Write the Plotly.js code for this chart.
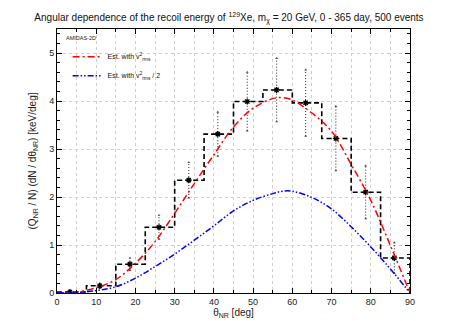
<!DOCTYPE html>
<html>
<head>
<meta charset="utf-8">
<script src="https://cdn.plot.ly/plotly-3.0.1.min.js"></script>
<style>html,body{margin:0;padding:0;background:#fff;}#chart{width:458px;height:321px;}</style>
</head>
<body>
<div id="chart"></div>
<script>
// Histogram bins (left edges, deg) and reconstructed values
const binLeft = [0, 7.5, 15, 22.5, 30, 37.5, 45, 52.5, 60, 67.5, 75, 82.5];
const binRightEnd = 90;
const binValues = [0.02, 0.15, 0.60, 1.37, 2.35, 3.31, 3.99, 4.23, 3.96, 3.22, 2.10, 0.73];

// Data points with error bars
const pointAngle = [3.3, 10.9, 18.6, 26.0, 33.6, 41.0, 48.5, 56.0, 63.4, 71.1, 78.7, 86.0];
const pointValue = [0.02, 0.15, 0.60, 1.37, 2.35, 3.31, 3.99, 4.23, 3.96, 3.22, 2.10, 0.73];
const pointError = [0.01, 0.05, 0.13, 0.25, 0.37, 0.46, 0.61, 0.66, 0.69, 0.67, 0.55, 0.32];

// Theoretical curves
const curveAngle = [0, 5, 10, 15, 20, 25, 30, 35, 40, 45, 50, 55, 57.5, 60, 65, 70, 75, 80, 85, 90];
const estVrms2   = [0, 0.02, 0.11, 0.28, 0.62, 1.07, 1.66, 2.28, 2.88, 3.46, 3.85, 4.05, 4.07, 4.02, 3.75, 3.37, 2.68, 1.93, 0.99, 0];
const estVrms2h  = [0, 0.01, 0.05, 0.13, 0.31, 0.55, 0.81, 1.10, 1.40, 1.71, 1.93, 2.07, 2.12, 2.12, 1.99, 1.75, 1.38, 0.96, 0.50, 0];

const histX = binLeft.concat([binRightEnd, binRightEnd]);
const histY = binValues.concat([binValues[binValues.length - 1], 0]);

const errX = [], errY = [], capX = [], capY = [];
pointAngle.forEach((a, i) => {
  errX.push(a, a, null);
  errY.push(pointValue[i] - pointError[i], pointValue[i] + pointError[i], null);
  capX.push(a, a);
  capY.push(pointValue[i] - pointError[i], pointValue[i] + pointError[i]);
});

const font = "'Liberation Sans', Arial, sans-serif";

const traces = [
  {x: histX, y: histY, type: 'scatter', mode: 'lines', line: {shape: 'hv', color: '#000', width: 1.6, dash: '5px,3px'}, showlegend: false, hoverinfo: 'skip'},
  {x: errX, y: errY, type: 'scatter', mode: 'lines', line: {color: '#222', width: 1, dash: '1px,2px'}, showlegend: false, hoverinfo: 'skip'},
  {x: capX, y: capY, type: 'scatter', mode: 'markers', marker: {symbol: 'triangle-up', size: 2.5, color: '#444', line: {width: 0}}, showlegend: false, hoverinfo: 'skip'},
  {x: pointAngle, y: pointValue, type: 'scatter', mode: 'markers', marker: {symbol: 'asterisk-open', size: 5, color: '#000', line: {width: 1.3, color: '#000'}}, showlegend: false},
  {x: curveAngle, y: estVrms2, type: 'scatter', mode: 'lines', name: 'Est. with v<sup>2</sup><sub>rms</sub>', line: {shape: 'spline', color: '#ff0000', width: 1.5, dash: '7px,3px,2px,3px'}},
  {x: curveAngle, y: estVrms2h, type: 'scatter', mode: 'lines', name: 'Est. with v<sup>2</sup><sub>rms</sub> / 2', line: {shape: 'spline', color: '#0000ff', width: 1.5, dash: '6px,2px,1.5px,2px,1.5px,2px'}}
];

const layout = {
  width: 458, height: 321,
  margin: {l: 57, r: 48, t: 29, b: 28, pad: 0},
  paper_bgcolor: '#fff', plot_bgcolor: '#fff',
  font: {family: font, size: 9, color: '#222'},
  title: {text: 'Angular dependence of the recoil energy of <sup>129</sup>Xe, m<sub>χ</sub> = 20 GeV, 0 - 365 day, 500 events', font: {family: font, size: 10, color: '#111'}, x: 0.5, xanchor: 'center', y: 0.945, yanchor: 'middle'},
  xaxis: {
    range: [0, 90], dtick: 10, tick0: 0, ticks: 'inside', ticklen: 5, tickcolor: '#000',
    showline: true, linecolor: '#000', linewidth: 1, mirror: 'ticks',
    showgrid: true, gridcolor: '#cfcfcf', griddash: 'dot', gridwidth: 1, zeroline: false,
    minor: {dtick: 5, ticks: 'inside', ticklen: 3, tickcolor: '#000', showgrid: true, gridcolor: '#cfcfcf', griddash: 'dot'},
    tickfont: {family: font, size: 9, color: '#222'},
    title: {text: 'θ<sub>NR</sub> [deg]', font: {family: font, size: 10, color: '#222'}, standoff: 2}
  },
  yaxis: {
    range: [0, 5.5], dtick: 1, tick0: 0, ticks: 'inside', ticklen: 5, tickcolor: '#000',
    showline: true, linecolor: '#000', linewidth: 1, mirror: 'ticks',
    showgrid: true, gridcolor: '#cfcfcf', griddash: 'dot', gridwidth: 1, zeroline: false,
    minor: {dtick: 0.2, ticks: 'inside', ticklen: 3, tickcolor: '#000', showgrid: false},
    tickfont: {family: font, size: 9, color: '#222'},
    title: {text: '(Q<sub>NR</sub> / N) (dN / dθ<sub>NR</sub>) [keV/deg]', font: {family: font, size: 10, color: '#222'}, standoff: 10}
  },
  legend: {x: 0.03, y: 0.95, xanchor: 'left', yanchor: 'top', bgcolor: 'rgba(0,0,0,0)', font: {family: font, size: 7, color: '#111'}, tracegroupgap: 0, itemwidth: 30},
  annotations: [
    {text: 'AMIDAS-2D', xref: 'paper', yref: 'paper', x: 0.02, y: 0.985, xanchor: 'left', yanchor: 'top', showarrow: false, font: {family: font, size: 5.5, color: '#222'}}
  ],
  showlegend: true
};

Plotly.newPlot('chart', traces, layout, {displayModeBar: false, staticPlot: true});
</script>
</body>
</html>
